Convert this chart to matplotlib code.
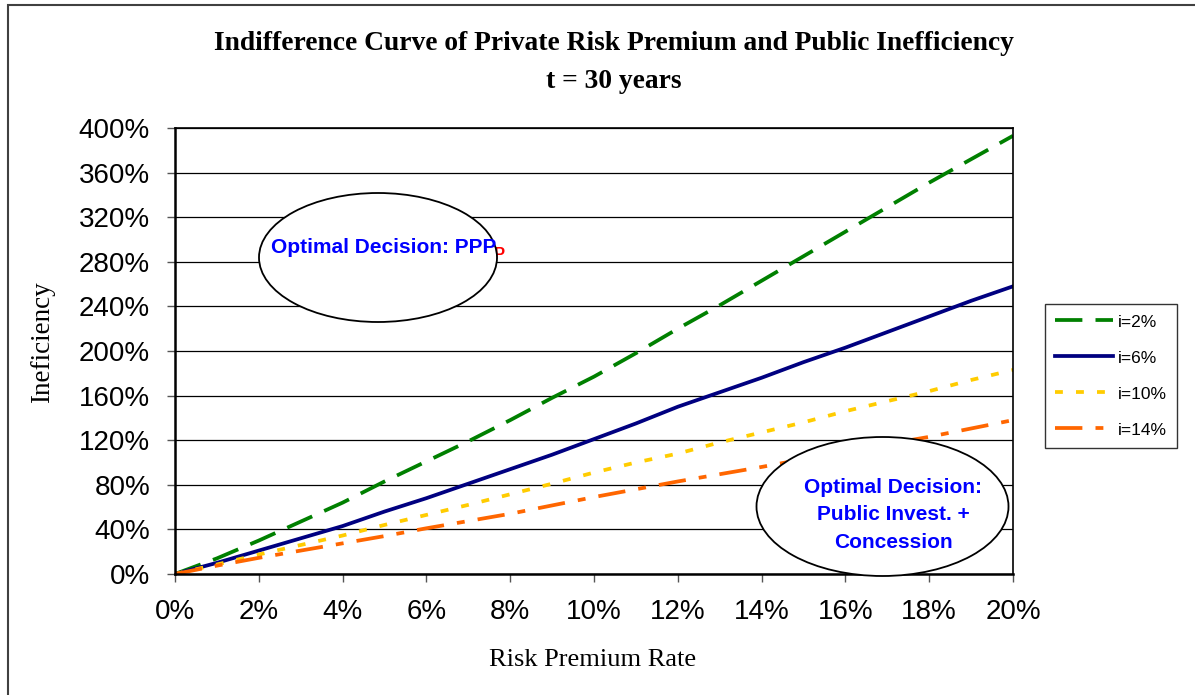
import matplotlib
matplotlib.use("Agg")
import matplotlib.pyplot as plt
from matplotlib.patches import Ellipse, Rectangle

# risk premium rate (%) and inefficiency (%)
risk_rate = [0, 1, 2, 3, 4, 5, 6, 7, 8, 9, 10, 11, 12, 13, 14, 15, 16, 17, 18, 19, 20]
ineff_i2 = [0, 14, 30, 47, 64, 83, 101, 119, 138, 158, 177, 198, 220, 241, 263, 285, 307, 329, 351, 372, 393]
ineff_i6 = [0, 10, 21, 32, 43, 56, 68, 81, 94, 107, 121, 135, 150, 163, 176, 190, 203, 217, 231, 245, 258]
ineff_i10 = [0, 8.5, 17.5, 26, 34.5, 44, 53, 62, 71.5, 81, 91, 100, 108, 118, 127, 136, 146, 155, 164, 174, 183]
ineff_i14 = [0, 7.5, 14.5, 21, 27.5, 34, 41, 47.5, 54, 61.5, 69, 76, 83, 89.5, 96, 103, 110, 116.5, 123, 130.5, 138]

x_ticks = [0, 2, 4, 6, 8, 10, 12, 14, 16, 18, 20]
y_ticks = [0, 40, 80, 120, 160, 200, 240, 280, 320, 360, 400]

W, H = 1195, 695

def fx(px):
    return px / W

def fy(py):
    return 1 - py / H

fig = plt.figure(figsize=(W / 100, H / 100), dpi=100)
fig.patch.set_facecolor("white")

# outer chart border (only top and left fall inside the picture)
fig.add_artist(Rectangle((fx(8), fy(705)), fx(1200) - fx(8), fy(5) - fy(705),
                         transform=fig.transFigure, fill=False, edgecolor="#404040", lw=1.5))

ax = fig.add_axes([fx(175), fy(574), fx(1013) - fx(175), fy(128) - fy(574)])

lw = 2.7
ax.plot(risk_rate, ineff_i2, color="#008000", lw=lw, dashes=(7.3, 3.5), label="i=2%")
ax.plot(risk_rate, ineff_i6, color="#000080", lw=lw, label="i=6%")
ax.plot(risk_rate, ineff_i10, color="#FFCC00", lw=lw, dashes=(2.1, 3.5), label="i=10%")
ax.plot(risk_rate, ineff_i14, color="#FF6600", lw=lw, dashes=(7.3, 3.5, 2.1, 3.5), label="i=14%")

ax.set_xlim(0, 20)
ax.set_ylim(0, 400)
ax.set_xticks(x_ticks)
ax.set_yticks(y_ticks)
ax.set_xticklabels([f"{v}%" for v in x_ticks])
ax.set_yticklabels([f"{v}%" for v in y_ticks])
ax.yaxis.grid(True, color="black", lw=0.9)
ax.set_axisbelow(True)

for s in ax.spines.values():
    s.set_color("black")
    s.set_linewidth(1.2)
ax.spines["left"].set_linewidth(1.8)
ax.spines["bottom"].set_linewidth(1.8)

ax.tick_params(direction="out", length=6, width=1, color="#555555",
               labelsize=20, pad=12)
for lab in ax.get_xticklabels() + ax.get_yticklabels():
    lab.set_fontfamily("Liberation Sans")

leg = fig.legend(loc="upper left", bbox_to_anchor=(fx(1045), fy(304)),
                 prop={"family": "Liberation Sans", "size": 12.5},
                 handlelength=3.3, handletextpad=0.3, labelspacing=1.2,
                 borderpad=0.6, borderaxespad=0, fancybox=False, frameon=True)
leg.get_frame().set_edgecolor("black")
leg.get_frame().set_linewidth(1.0)

fig.text(fx(614), fy(44), "Indifference Curve of Private Risk Premium and Public Inefficiency",
         ha="center", va="center", fontsize=19.8, fontweight="bold", family="Liberation Serif")
fig.text(fx(614), fy(82), "t = 30 years",
         ha="center", va="center", fontsize=19.8, fontweight="bold", family="Liberation Serif")
fig.text(fx(593), fy(660), "Risk Premium Rate", ha="center", va="center",
         fontsize=19, family="Liberation Serif")
fig.text(fx(43), fy(342), "Ineficiency", ha="center", va="center", rotation=90,
         fontsize=19.5, family="Liberation Serif")

# annotation ellipses (a stray red label peeks out behind the first one)
fig.text(fx(499), fy(255), "P", color="red", ha="center", va="center",
         fontsize=12, fontweight="bold", family="Liberation Sans", zorder=4)
fig.add_artist(Ellipse((fx(378), fy(257.5)), fx(238), 129 / H, transform=fig.transFigure,
                       facecolor="white", edgecolor="black", lw=1.3, zorder=5))
fig.text(fx(384), fy(247), "Optimal Decision: PPP", color="#0000FF", ha="center", va="center",
         fontsize=15, fontweight="bold", family="Liberation Sans", zorder=6)

fig.add_artist(Ellipse((fx(882.5), fy(506.5)), fx(252), 139 / H, transform=fig.transFigure,
                       facecolor="white", edgecolor="black", lw=1.3, zorder=5))
fig.text(fx(893), fy(515), "Optimal Decision:\nPublic Invest. +\nConcession", color="#0000FF",
         ha="center", va="center", fontsize=15, fontweight="bold", family="Liberation Sans",
         linespacing=1.55, zorder=6)

fig.savefig("out.png", dpi=100)
